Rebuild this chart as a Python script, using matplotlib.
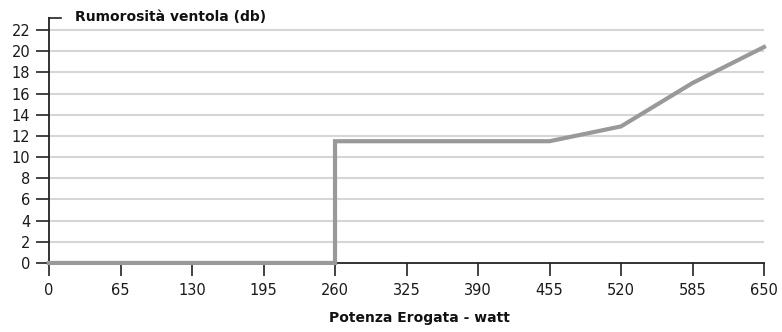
import matplotlib
matplotlib.use("Agg")
import matplotlib.pyplot as plt

# potenza erogata (watt) / rumorosita (db)
watt = [0, 260, 260, 455, 520, 585, 650]
db = [0, 0, 11.5, 11.5, 12.9, 17.0, 20.4]
x_ticks = [0, 65, 130, 195, 260, 325, 390, 455, 520, 585, 650]
y_ticks = [0, 2, 4, 6, 8, 10, 12, 14, 16, 18, 20, 22]

plt.rcParams['font.family'] = ['DejaVu Sans']

fig = plt.figure(figsize=(7.82, 3.32), dpi=100)
ax = fig.add_axes([0.0627, 0.208, 0.9143, 0.738])

ax.plot(watt, db, color='#999999', lw=3, solid_joinstyle='miter', zorder=3, clip_on=False)

ax.set_xlim(0, 650)
ax.set_ylim(0, 23.15)
ax.set_xticks(x_ticks)
ax.set_yticks(y_ticks)
ax.tick_params(axis='both', direction='out', length=9.5, width=1.2, color='#222222',
               labelsize=10.5, labelcolor='#1a1a1a')
ax.tick_params(axis='x', pad=5)
ax.tick_params(axis='y', pad=4)

for y in y_ticks[1:]:
    ax.axhline(y, color='#d6d6d6', lw=1.5, zorder=1)

for s in ['top', 'right']:
    ax.spines[s].set_visible(False)
for s in ['left', 'bottom']:
    ax.spines[s].set_color('#222222')
    ax.spines[s].set_linewidth(1.3)

# small tick at top of the y axis, pointing right
ax.plot([0, 0.017], [1, 1], transform=ax.transAxes, color='#222222', lw=1.2, clip_on=False)

ax.text(0.036, 1.005, 'Rumorosità ventola (db)', transform=ax.transAxes,
        fontsize=10, fontweight='bold', color='#111111', va='center', ha='left')
fig.text(0.536, 0.022, 'Potenza Erogata - watt', fontsize=10, fontweight='bold',
         color='#111111', ha='center', va='bottom')

fig.savefig('out.png', dpi=100)
